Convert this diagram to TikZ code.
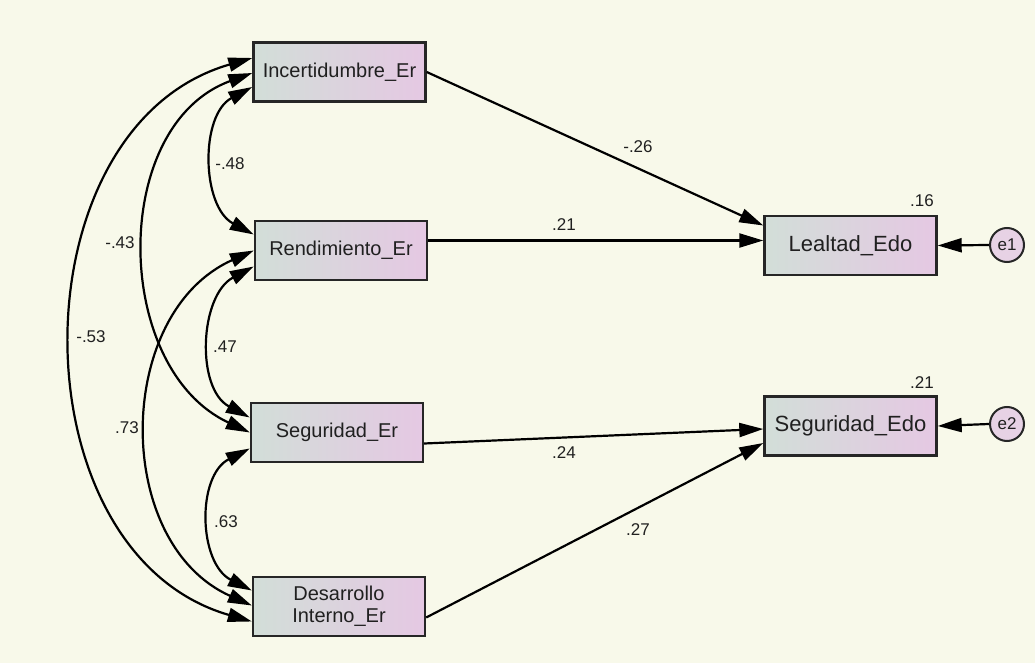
\documentclass[tikz,border=0pt]{standalone}
\usepackage{fontspec}
\setmainfont{Liberation Sans}
\usetikzlibrary{calc,arrows.meta}
\definecolor{bgcream}{RGB}{248,249,234}
\definecolor{boxleft}{RGB}{210,222,216}
\definecolor{boxright}{RGB}{229,200,227}
\definecolor{errfill}{RGB}{231,210,229}
\definecolor{txt}{RGB}{32,32,32}
\tikzset{
    var/.style={draw=black!85, line width=1.2pt, left color=boxleft, right color=boxright,
        minimum width=86pt, minimum height=29.5pt, inner sep=0pt, align=center,
        font=\fontsize{10}{11}\selectfont, text=txt},
    endo/.style={var, font=\fontsize{11}{12}\selectfont},
    err/.style={draw=black!85, circle, line width=1pt, fill=errfill, minimum size=17pt,
        inner sep=0pt, font=\fontsize{8.5}{10}\selectfont, text=txt},
    reg/.style={-{Triangle[length=12pt,width=7pt]}, line width=1.1pt},
    cov/.style={{Triangle[length=12pt,width=7pt]}-{Triangle[length=12pt,width=7pt]}, line width=1.1pt},
    coef/.style={font=\fontsize{8.5}{10}\selectfont, text=txt, inner sep=0pt}
}
\begin{document}
\begin{tikzpicture}[x=0.5pt, y=0.5pt]
    \fill[bgcream] (0,0) rectangle (1035,-663);
    % variables
    \node[var] (inc) at (339.5,-72) {Incertidumbre\_Er};
    \node[var] (ren) at (341,-250.5) {Rendimiento\_Er};
    \node[var] (seg) at (337,-432.5) {Seguridad\_Er};
    \node[var] (des) at (339,-606.5) {Desarrollo\\Interno\_Er};
    \node[endo] (lea) at (850.5,-245.5) {Lealtad\_Edo};
    \node[endo] (sedo) at (850.5,-426) {Seguridad\_Edo};
    \node[err] (e1) at (1007,-245) {e1};
    \node[err] (e2) at (1007,-424) {e2};
    % paths
    \draw[reg] (inc.east) -- ($(lea.west)+(0,20)$);
    \draw[reg] ($(ren.east)+(0,10)$) -- ($(lea.west)+(0,5)$);
    \draw[reg] ($(seg.east)+(0,-11)$) -- ($(sedo.west)+(0,-3)$);
    \draw[reg] ($(des.east)+(0,-11)$) -- ($(sedo.west)+(0,-17)$);
    \draw[reg] (e1.west) -- (lea.east);
    \draw[reg] (e2.west) -- (sedo.east);
    % covariances
    \draw[cov] ($(inc.west)+(0,-15)$) to[out=208,in=152,looseness=1.03] ($(ren.west)+(0,16)$);
    \draw[cov] ($(inc.west)+(0,-1)$) to[out=200,in=155,looseness=1.08] (seg.west);
    \draw[cov] ($(inc.west)+(0,14)$) to[out=196,in=164,looseness=1.13] ($(des.west)+(0,-15)$);
    \draw[cov] ($(ren.west)+(0,-16)$) to[out=208,in=152,looseness=1.04] ($(seg.west)+(0,15)$);
    \draw[cov] (ren.west) to[out=204,in=156,looseness=1.1] ($(des.west)+(0,1)$);
    \draw[cov] ($(seg.west)+(0,-16)$) to[out=207,in=153,looseness=1.08] ($(des.west)+(0,16)$);
    % estimates
    \node[coef] (cIR) at (230,-164) {-.48};
    \node[coef] (cIS) at (120,-243) {-.43};
    \node[coef] (cID) at (91,-337) {-.53};
    \node[coef] (cRS) at (225,-347) {.47};
    \node[coef] (cRD) at (127,-428) {.73};
    \node[coef] (cSD) at (226,-522) {.63};
    \node[coef] (bIL) at (638,-147) {-.26};
    \node[coef] (bRL) at (564,-225) {.21};
    \node[coef] (bSS) at (564,-453) {.24};
    \node[coef] (bDS) at (638,-530) {.27};
    \node[coef] (rL) at (922,-201) {.16};
    \node[coef] (rS) at (922,-383) {.21};
\end{tikzpicture}
\end{document}
